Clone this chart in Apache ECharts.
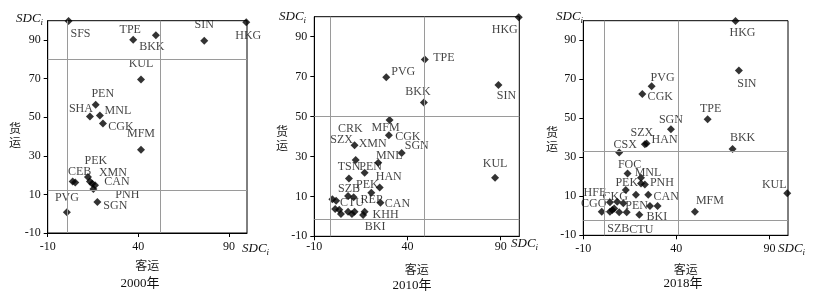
<!DOCTYPE html>
<html>
<head>
<meta charset="utf-8">
<script src="https://cdn.jsdelivr.net/npm/echarts@6/dist/echarts.min.js"></script>
<style>
  html, body { margin: 0; padding: 0; background: #fff; }
  #chart { width: 819px; height: 298px; }
</style>
</head>
<body>
<div id="chart"></div>
<script>
// 2000
const names2000 = ['SFS', 'HKG', 'TPE', 'BKK', 'SIN', 'KUL', 'PEN', 'SHA', 'MNL', 'CGK', 'MFM', 'PEK', 'CEB', '', 'XMN', '', 'CAN', 'PNH', 'SGN', 'PVG'];
const x2000 = [1.5, 99.6, 37.2, 49.7, 76.4, 41.5, 16.5, 13.3, 18.8, 20.5, 41.5, 12.2, 3.8, 5.2, 13.3, 14.6, 16.1, 15.2, 17.4, 0.6];
const y2000 = [99.8, 99.2, 90.1, 92.4, 89.6, 69.5, 56.4, 50.3, 50.9, 46.7, 33.1, 19.0, 16.7, 16.2, 16.7, 15.5, 14.7, 12.8, 6.0, 0.7];
const xCuts2000 = [1, 52];
const yCuts2000 = [80, 12.3];

// 2010
const names2010 = ['HKG', 'TPE', 'PVG', 'SIN', 'BKK', 'MFM', 'CGK', 'SGN', 'KUL', 'SZX', 'XMN', 'MNL', 'TSN', 'PEN', 'HAN', 'PEK', 'SZB', '', 'CAN',
  'CRK', '', '', '', '', '', 'CTU', 'REP', 'BKI', 'KHH'];
const x2010 = [99.7, 49.3, 28.6, 88.8, 48.8, 30.4, 30.0, 36.9, 87.0, 11.6, 12.2, 24.3, 8.6, 17.0, 25.1, 20.6, 8.1, 11.1, 25.5,
  -0.3, 1.7, 1.2, 3.4, 4.3, 8.1, 10.2, 11.6, 16.2, 17.0];
const y2010 = [99.7, 78.5, 69.7, 65.8, 57.0, 48.2, 40.6, 31.7, 19.3, 35.6, 28.2, 26.8, 19.0, 21.8, 14.5, 11.8, 10.2, 9.5, 6.8,
  8.5, 7.8, 3.7, 3.3, 1.2, 2.3, 1.2, 2.3, 0.7, 2.3];
const xCuts2010 = [-1.5, 49];
const yCuts2010 = [50, -1.5];

// 2018
const names2018 = ['HKG', 'SIN', 'PVG', 'CGK', 'TPE', 'SGN', 'BKK', 'SZX', 'HAN', 'CSX', 'KUL', 'MFM', 'FOC', 'MNL', 'PEK', '', 'PNH', '', 'CAN',
  'HFE', 'CKG', '', 'BKI', '', 'CGO', '', '', '', 'SZB', 'PEN', 'CTU'];
const x2018 = [71.8, 73.6, 26.7, 21.7, 56.8, 37.1, 70.2, 23.1, 24.0, 9.3, 99.6, 50.0, 13.8, 21.0, 12.8, 21.0, 23.1, 18.3, 24.9,
  4.3, 8.2, 11.5, 25.8, 29.9, -0.1, 4.3, 5.6, 6.6, 9.3, 13.3, 20.1];
const y2018 = [99.8, 74.5, 66.4, 62.4, 49.5, 44.3, 34.2, 36.7, 37.1, 32.5, 11.5, 2.1, 21.7, 19.5, 13.2, 16.6, 16.1, 10.8, 10.8,
  6.9, 7.2, 6.4, 5.0, 5.0, 2.1, 2.1, 3.0, 3.8, 1.8, 1.8, 0.5];
const xCuts2018 = [1.3, 41];
const yCuts2018 = [33.2, -2.3];

const years = ['2000年', '2010年', '2018年'];

// label offsets (px) relative to each point
const offsets2000 = {
  SFS: [12, 13], HKG: [2, 14], TPE: [-3, -10], BKK: [-4, 11], SIN: [0, -16], KUL: [0, -16],
  PEN: [7, -11], SHA: [-9, -8], MNL: [18, -5], CGK: [18, 3], MFM: [0, -16], PEK: [8, -16],
  CEB: [7, -10], XMN: [23, -9], CAN: [22, -3], PNH: [34, 6], SGN: [18, 4], PVG: [0, -15]
};
const offsets2010 = {
  HKG: [-14, 13], TPE: [19, -2], PVG: [17, -5], SIN: [8, 11], BKK: [-6, -11], MFM: [-4, 8],
  CGK: [19, 2], SGN: [15, -7], KUL: [0, -14], SZX: [-13, -5], XMN: [17, -16], MNL: [11, -7],
  TSN: [0, -12], PEN: [6, -6], HAN: [9, -11], PEK: [-4, -8], SZB: [1, -7], CAN: [17, 1],
  CRK: [18, -71], CTU: [0, -11], REP: [17, -12], BKI: [12, 12], KHH: [21, 3]
};
const offsets2018 = {
  HKG: [7, 12], SIN: [8, 13], PVG: [11, -8], CGK: [18, 3], TPE: [3, -10], SGN: [0, -10],
  SZX: [-3, -11], HAN: [18, -4], CSX: [6, -8], BKK: [10, -11], KUL: [-13, -9], MFM: [15, -11],
  FOC: [2, -9], MNL: [7, -5], PEK: [1, -7], PNH: [17, -2], CAN: [18, 2], HFE: [-15, -9],
  CKG: [-2, -5], CGO: [-8, -8], PEN: [10, -6], BKI: [7, 11], SZB: [-1, 17], CTU: [2, 15]
};

const grids = [
  {left: 47.7, top: 20.7, width: 199.3, height: 212.3},
  {left: 314.3, top: 16.7, width: 205, height: 219.6},
  {left: 583.3, top: 20.7, width: 204.7, height: 214.6}
];

const serif = "'Liberation Serif', 'Times New Roman', 'Noto Sans CJK SC', serif";
const cjk = "'Noto Sans CJK SC', serif";

function buildData(names, xs, ys, offsets) {
  let out = [];
  for (let i = 0; i < xs.length; i++) {
    let nm = names[i];
    out.push({
      name: nm,
      value: [xs[i], ys[i]],
      label: {
        show: nm !== '' && offsets[nm] !== undefined,
        offset: offsets[nm] || [0, 0]
      }
    });
  }
  return out;
}

function cutLines(xc, yc) {
  let d = [];
  xc.forEach(v => d.push({xAxis: v}));
  yc.forEach(v => d.push({yAxis: v}));
  return d;
}

const panels = [
  {data: buildData(names2000, x2000, y2000, offsets2000), cuts: cutLines(xCuts2000, yCuts2000)},
  {data: buildData(names2010, x2010, y2010, offsets2010), cuts: cutLines(xCuts2010, yCuts2010)},
  {data: buildData(names2018, x2018, y2018, offsets2018), cuts: cutLines(xCuts2018, yCuts2018)}
];

let xAxes = [], yAxes = [], series = [], titles = [];
const xNameGaps = [26, 27, 28];

grids.forEach((g, i) => {
  g.show = true;
  g.borderColor = '#000';
  g.borderWidth = 1;
  g.backgroundColor = 'transparent';
  xAxes.push({
    gridIndex: i, type: 'value', min: -10, max: 100, interval: 50,
    name: '客运', nameLocation: 'middle', nameGap: xNameGaps[i],
    nameTextStyle: {fontFamily: cjk, fontSize: 12, color: '#222'},
    axisLine: {onZero: false, lineStyle: {color: '#000', width: 1}},
    axisTick: {inside: false, length: 4, lineStyle: {color: '#000'}},
    axisLabel: {fontFamily: serif, fontSize: 12, color: '#111', margin: i === 1 ? 5 : 8, showMaxLabel: false},
    splitLine: {show: false}
  });
  yAxes.push({
    gridIndex: i, type: 'value', min: -10, max: 100, interval: 20,
    axisLine: {onZero: false, lineStyle: {color: '#000', width: 1}},
    axisTick: {inside: false, length: 4, lineStyle: {color: '#000'}},
    axisLabel: {fontFamily: serif, fontSize: 12, color: '#111', margin: 7, showMaxLabel: false},
    splitLine: {show: false}
  });
  series.push({
    type: 'scatter',
    xAxisIndex: i, yAxisIndex: i,
    symbol: 'diamond', symbolSize: 8,
    itemStyle: {color: '#000'},
    label: {
      show: true, position: 'inside', formatter: '{b}',
      color: '#111', fontFamily: serif, fontSize: 12,
      align: 'center', verticalAlign: 'middle', textBorderWidth: 0
    },
    emphasis: {disabled: true},
    data: panels[i].data,
    markLine: {
      silent: true, symbol: 'none', animation: false,
      label: {show: false},
      lineStyle: {color: '#9a9a9a', width: 1, type: 'solid'},
      data: panels[i].cuts
    },
    z: 3
  });
});

const sdcRich = {
  a: {fontFamily: serif, fontStyle: 'italic', fontWeight: 'normal', fontSize: 13, color: '#111'},
  b: {fontFamily: serif, fontStyle: 'italic', fontWeight: 'normal', fontSize: 9, color: '#111', padding: [8, 0, 0, 0]}
};
const sdcPos = [[16, 10], [242, 240], [279, 8], [511, 235], [556, 8], [778, 240]];
sdcPos.forEach(p => {
  titles.push({
    text: '{a|SDC}{b|i}', left: p[0], top: p[1], padding: 0,
    textStyle: {fontWeight: 'normal', rich: sdcRich}
  });
});
// vertical y-axis names
const yNamePos = [[15, 121], [282, 124], [552, 125]];
yNamePos.forEach(p => {
  titles.push({
    text: '货\n运', left: p[0], top: p[1], textAlign: 'center', padding: 0,
    textStyle: {fontFamily: cjk, fontSize: 12, fontWeight: 'normal', color: '#222', lineHeight: 14}
  });
});
const yearPos = [[140, 277], [412, 279], [683, 277]];
years.forEach((t, i) => {
  titles.push({
    text: t, left: yearPos[i][0], top: yearPos[i][1], textAlign: 'center', padding: 0,
    textStyle: {fontFamily: serif, fontSize: 13, fontWeight: 'normal', color: '#111'}
  });
});

let myChart = echarts.init(document.getElementById('chart'));
myChart.setOption({
  backgroundColor: '#fff',
  animation: false,
  title: titles,
  grid: grids,
  xAxis: xAxes,
  yAxis: yAxes,
  series: series
});
</script>
</body>
</html>
